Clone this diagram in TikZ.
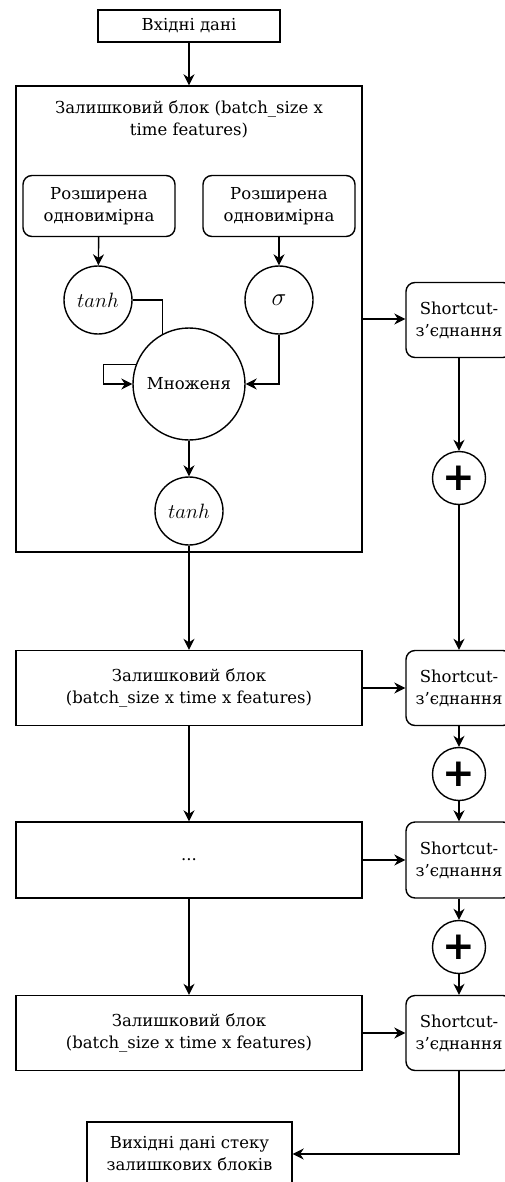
\documentclass[tikz,border=0pt]{standalone}
\usepackage{fontspec}
\setmainfont{DejaVu Serif}
\newfontfamily\plusfont{DejaVu Sans}
\usepackage{tikz}
\usetikzlibrary{arrows.meta, positioning}

\begin{document}
\begin{tikzpicture}[x=1pt, y=-1pt, line width=1.4pt,
    font=\fontsize{16.5}{22}\selectfont,
    >={Stealth[length=11pt, width=11pt]},
    box/.style={draw, rectangle, align=center, inner sep=2pt},
    rbox/.style={draw, rectangle, rounded corners=9pt, align=center, inner sep=2pt},
    op/.style={draw, circle, inner sep=0pt, minimum size=68pt},
    sumop/.style={draw, circle, inner sep=0pt, minimum size=53pt,
                  font=\plusfont\bfseries\fontsize{39}{39}\selectfont}]
  \useasboundingbox (0,0) rectangle (504,1182);

  \node[box, minimum width=182pt, minimum height=32pt] (in) at (189,26) {Вхідні дані};
  \node[box, minimum width=346pt, minimum height=466pt] (res1) at (189,319) {};
  \node[align=center] (title) at (189,119) {Залишковий блок (batch\_size x\\time features)};
  \node[rbox, minimum width=152pt, minimum height=61pt] (conv1) at (99,206) {Розширена\\одновимірна};
  \node[rbox, minimum width=152pt, minimum height=61pt] (conv2) at (279,206) {Розширена\\одновимірна};
  \node[op, font=\fontsize{20.74}{21}\selectfont] (tanh1) at (98,300) {$tanh$};
  \node[op, font=\fontsize{24}{24}\selectfont] (sig) at (279,300) {$\sigma$};
  \node[op, minimum size=112pt] (mul) at (189,384) {Множеня};
  \node[op, font=\fontsize{20.74}{21}\selectfont] (tanh2) at (189,511) {$tanh$};

  \node[box, minimum width=346pt, minimum height=75pt] (res2) at (189,688) {Залишковий блок\\(batch\_size x time x features)};
  \node[box, minimum width=346pt, minimum height=76pt] (dots) at (189,860) {...};
  \node[box, minimum width=346pt, minimum height=75pt] (res4) at (189,1033) {Залишковий блок\\(batch\_size x time x features)};
  \node[box, minimum width=205pt, minimum height=64pt] (out) at (189.5,1154) {Вихідні дані стеку\\залишкових блоків};

  \node[rbox, minimum width=106pt, minimum height=75pt] (sc1) at (459,320) {Shortcut-\\з’єднання};
  \node[sumop] (plus1) at (459,478) {+};
  \node[rbox, minimum width=106pt, minimum height=75pt] (sc2) at (459,688) {Shortcut-\\з’єднання};
  \node[sumop] (plus2) at (459,774) {+};
  \node[rbox, minimum width=106pt, minimum height=76pt] (sc3) at (459,860) {Shortcut-\\з’єднання};
  \node[sumop] (plus3) at (459,947) {+};
  \node[rbox, minimum width=106pt, minimum height=75pt] (sc4) at (459,1033) {Shortcut-\\з’єднання};

  \draw[->] (in) -- (res1);
  \draw[->] (conv1) -- (tanh1);
  \draw[->] (conv2) -- (sig);
  \draw (tanh1.east) -| (mul.118);
  \draw[->] (sig.south) |- (mul.east);
  \draw[->] (mul.160) -- ++(-32,0) |- (mul.west);
  \draw[->] (mul) -- (tanh2);
  \draw[->] (tanh2) -- (res2);
  \draw[->] (res2) -- (dots);
  \draw[->] (dots) -- (res4);

  \draw[->] (res1.east) -- (res1.east -| sc1.west);
  \draw[->] (res2) -- (sc2);
  \draw[->] (dots) -- (sc3);
  \draw[->] (res4) -- (sc4);
  \draw[->] (sc1) -- (plus1);
  \draw[->] (plus1) -- (sc2);
  \draw[->] (sc2) -- (plus2);
  \draw[->] (plus2) -- (sc3);
  \draw[->] (sc3) -- (plus3);
  \draw[->] (plus3) -- (sc4);
  \draw[->] (sc4.south) |- (out.east);
\end{tikzpicture}
\end{document}
